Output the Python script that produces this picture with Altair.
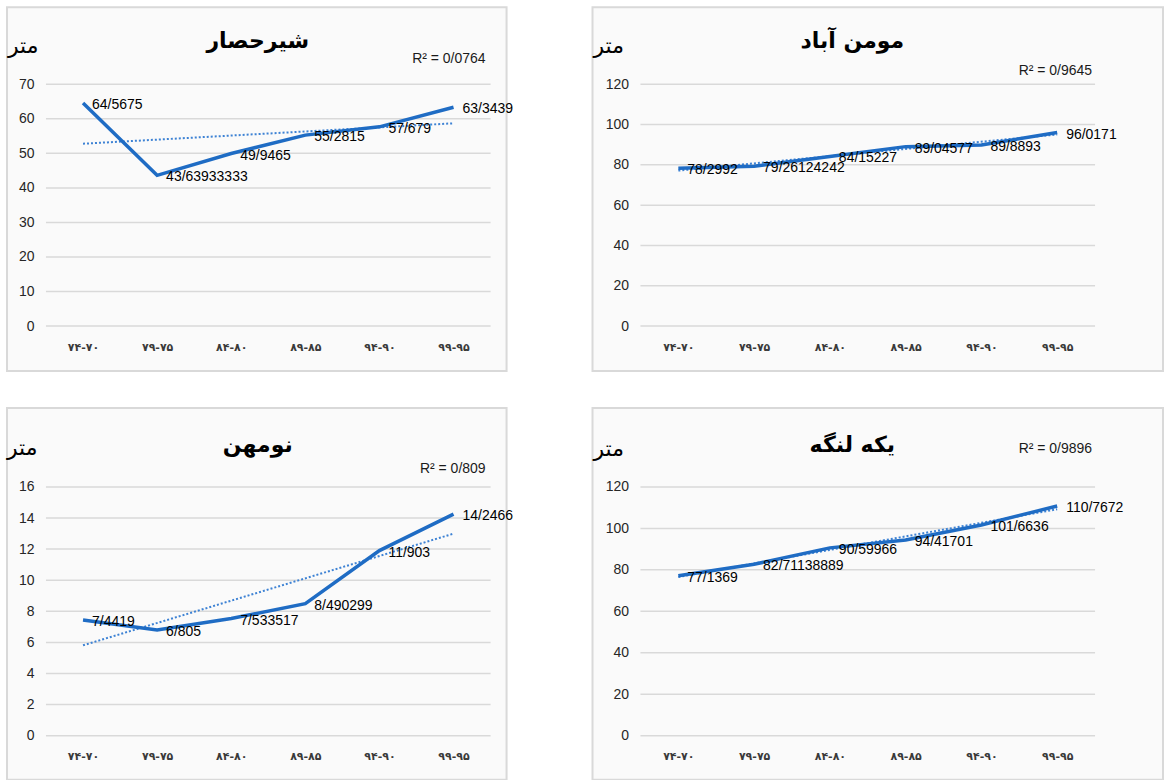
import altair as alt
import pandas as pd

# ---------------- data ----------------
periods = ["۷۴-۷۰", "۷۹-۷۵", "۸۴-۸۰", "۸۹-۸۵", "۹۴-۹۰", "۹۹-۹۵"]
unit_label = "متر"

title1 = "شیرحصار"
values1 = [64.5675, 43.63933333, 49.9465, 55.2815, 57.679, 63.3439]
labels1 = ["64/5675", "43/63933333", "49/9465", "55/2815", "57/679", "63/3439"]
r2_1 = "R² = 0/0764"
ticks1 = [0, 10, 20, 30, 40, 50, 60, 70]

title2 = "مومن آباد"
values2 = [78.2992, 79.26124242, 84.15227, 89.04577, 89.8893, 96.0171]
labels2 = ["78/2992", "79/26124242", "84/15227", "89/04577", "89/8893", "96/0171"]
r2_2 = "R² = 0/9645"
ticks2 = [0, 20, 40, 60, 80, 100, 120]

title3 = "نومهن"
values3 = [7.4419, 6.805, 7.533517, 8.490299, 11.903, 14.2466]
labels3 = ["7/4419", "6/805", "7/533517", "8/490299", "11/903", "14/2466"]
r2_3 = "R² = 0/809"
ticks3 = [0, 2, 4, 6, 8, 10, 12, 14, 16]

title4 = "یکه لنگه"
values4 = [77.1369, 82.71138889, 90.59966, 94.41701, 101.6636, 110.7672]
labels4 = ["77/1369", "82/71138889", "90/59966", "94/41701", "101/6636", "110/7672"]
r2_4 = "R² = 0/9896"
ticks4 = [0, 20, 40, 60, 80, 100, 120]

# ---------------- style ----------------
LINE_COLOR = "#1f6cc4"
TREND_COLOR = "#3d82d4"
GRID_COLOR = "#d9d9d9"
FRAME_FILL = "#fafafa"
NUM_FONT = "Liberation Sans Narrow, Liberation Sans, sans-serif"
AR_FONT = "DejaVu Sans"

label_expr = "[" + ",".join("'%s'" % p for p in periods) + "][datum.value]"


def panel(values, labels, title, r2, ticks, width, height, frame, r2_pos, title_y, unit_pos):
    L, T, R, B = frame
    df = pd.DataFrame({"i": list(range(len(values))), "v": values, "lab": labels})
    one = pd.DataFrame({"k": [0]})
    grid_df = pd.DataFrame({"t": ticks})

    xs = alt.Scale(domain=[-0.5, len(values) - 0.5], nice=False, zero=False)
    ys = alt.Scale(domain=[0, max(ticks)], nice=False, zero=True)
    x_axis = alt.Axis(values=list(range(len(values))), labelExpr=label_expr, grid=False,
                      domain=False, ticks=False, labelPadding=15, labelFontSize=11,
                      labelFont=AR_FONT, labelFontWeight="bold", labelColor="#3a3a3a",
                      title=None, zindex=2)
    y_axis = alt.Axis(values=ticks, grid=False, domain=False, ticks=False, labelPadding=12,
                      labelFontSize=14, labelFont=NUM_FONT, labelColor="#262626",
                      title=None, zindex=2)

    frame_l = alt.Chart(one).mark_rect(fill=FRAME_FILL, stroke=GRID_COLOR, strokeWidth=2).encode(
        x=alt.value(-L), x2=alt.value(width + R), y=alt.value(-T), y2=alt.value(height + B))

    grid = alt.Chart(grid_df).mark_rule(color=GRID_COLOR, strokeWidth=1.5).encode(
        y=alt.Y("t:Q", scale=ys, axis=y_axis), x=alt.value(0), x2=alt.value(width))

    base = alt.Chart(df)
    trend = base.transform_regression("i", "v").mark_line(
        color=TREND_COLOR, strokeWidth=2, strokeDash=[2, 2]).encode(
        x=alt.X("i:Q", scale=xs, axis=x_axis), y=alt.Y("v:Q", scale=ys, axis=y_axis))

    line = base.mark_line(color=LINE_COLOR, strokeWidth=3.5).encode(
        x=alt.X("i:Q", scale=xs, axis=x_axis), y=alt.Y("v:Q", scale=ys, axis=y_axis))

    text = base.mark_text(align="left", baseline="middle", dx=9, dy=2, fontSize=14,
                          font=NUM_FONT, color="#000000").encode(
        x=alt.X("i:Q", scale=xs, axis=x_axis), y=alt.Y("v:Q", scale=ys, axis=y_axis),
        text="lab:N")

    ttl = alt.Chart(one).mark_text(align="center", baseline="middle", fontSize=22,
                                   fontWeight="bold", font=AR_FONT, color="#000000").encode(
        x=alt.value(212), y=alt.value(title_y), text=alt.value(title))

    unit = alt.Chart(one).mark_text(align="left", baseline="middle", fontSize=22,
                                    font=AR_FONT, color="#000000").encode(
        x=alt.value(unit_pos[0]), y=alt.value(unit_pos[1]), text=alt.value(unit_label))

    r2t = alt.Chart(one).mark_text(align="right", baseline="middle", fontSize=14,
                                   font=NUM_FONT, color="#1a1a1a").encode(
        x=alt.value(r2_pos[0]), y=alt.value(r2_pos[1]), text=alt.value(r2))

    return alt.layer(frame_l, grid, trend, line, text, ttl, unit, r2t).properties(
        width=width, height=height)


p1 = panel(values1, labels1, title1, r2_1, ticks1, 445, 242, (39, 77, 16, 45), (440, -25), -43, (-38, -38))
p2 = panel(values2, labels2, title2, r2_2, ticks2, 455, 242, (48, 77, 68, 45), (452, -13), -43, (-47, -38))
p3 = panel(values3, labels3, title3, r2_3, ticks3, 445, 249, (39, 79, 16, 44), (440, -18), -42, (-39, -39))
p4 = panel(values4, labels4, title4, r2_4, ticks4, 455, 249, (48, 79, 68, 44), (452, -38), -42, (-47, -38))

chart = alt.concat(p1, p2, p3, p4, columns=2, spacing={"row": 161, "column": 150},
                   bounds="flush").properties(
    padding={"left": 5, "top": 5, "right": 0, "bottom": 0},
    background="white",
).configure_view(stroke="transparent")

chart.save("out.html", embed_options={"renderer": "svg", "actions": False})
